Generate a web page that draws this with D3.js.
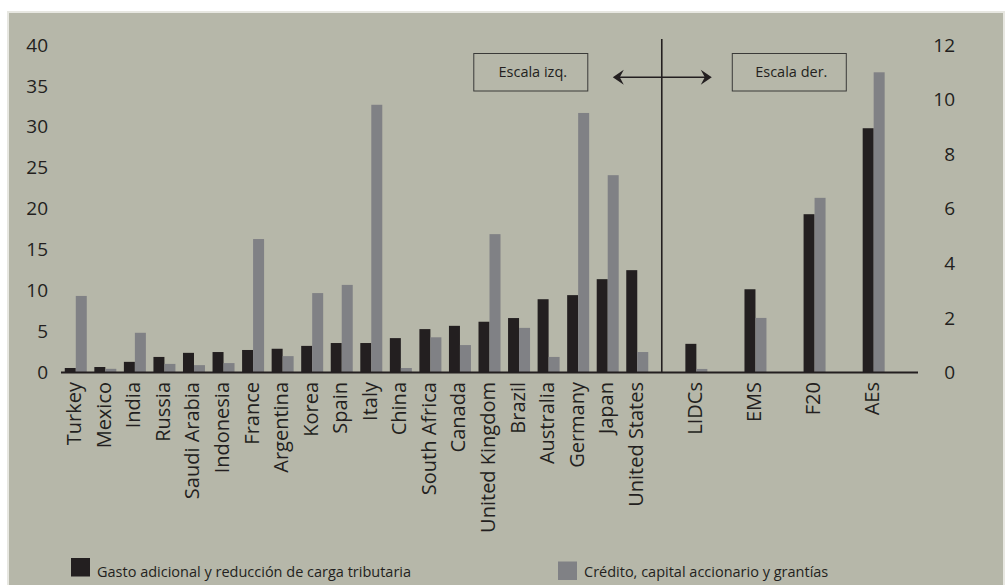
<!DOCTYPE html>
<html>
<head>
<meta charset="utf-8">
<script src="https://cdn.jsdelivr.net/npm/d3@7"></script>
<style>
  html, body { margin: 0; padding: 0; background: #ffffff; }
  svg { display: block; }
  text { font-family: "Open Sans", "Noto Sans", sans-serif; fill: #231f20; }
</style>
</head>
<body>
<svg id="chart" width="1005" height="585"></svg>
<script>
// ---- Data ----
const countries = ["Turkey","Mexico","India","Russia","Saudi Arabia","Indonesia","France","Argentina","Korea","Spain","Italy","China","South Africa","Canada","United Kingdom","Brazil","Australia","Germany","Japan","United States"];
const countryGasto   = [0.55,0.67,1.3,1.9,2.4,2.5,2.75,2.9,3.25,3.6,3.6,4.2,5.3,5.7,6.2,6.65,8.95,9.45,11.4,12.5];
const countryCredito = [9.35,0.45,4.85,1.05,0.9,1.15,16.3,2.0,9.7,10.7,32.7,0.55,4.3,3.35,16.9,5.45,1.9,31.7,24.1,2.5];

const groups = ["LIDCs","EMS","F20","AEs"];
const groupGasto   = [1.05,3.05,5.8,8.95];
const groupCredito = [0.13,2.0,6.4,11.0];

const leftTicks  = [0,5,10,15,20,25,30,35,40];
const rightTicks = [0,2,4,6,8,10,12];

const legendLabels = ["Gasto adicional y reducción de carga tributaria","Crédito, capital accionario y grantías"];
const scaleLabels  = ["Escala izq.","Escala der."];

const colGasto = "#231f20";
const colCredito = "#808185";

// ---- Build slots (countries, then groups separated by empty slots) ----
const slots = countries.slice();
groups.forEach((g, i) => { slots.push("_gap" + i); slots.push(g); });
slots.push("_gapEnd");

const rows = countries.map((c, i) => ({ key: c, gasto: countryGasto[i], credito: countryCredito[i], side: "L" }))
  .concat(groups.map((g, i) => ({ key: g, gasto: groupGasto[i], credito: groupCredito[i], side: "R" })));

const svg = d3.select("#chart");

// background panel
svg.append("rect").attr("x", 7).attr("y", 11).attr("width", 998).attr("height", 574).attr("fill", "#e7e7e1");
svg.append("rect").attr("x", 9).attr("y", 13).attr("width", 994).attr("height", 572).attr("fill", "#b6b7a9");

const x = d3.scaleBand().domain(slots).range([61, 918]).paddingInner(0).paddingOuter(0);
const yL = d3.scaleLinear().domain([0, 40]).range([372.5, 45]);
const yR = d3.scaleLinear().domain([0, 12]).range([372.5, 45]);
const barW = x.bandwidth() * 0.372;
const cx = k => x(k) + x.bandwidth() / 2;
const yFor = d => d.side === "L" ? yL : yR;

// Bars
const g = svg.append("g");
g.selectAll("rect.gasto").data(rows).join("rect")
  .attr("class", "gasto")
  .attr("x", d => cx(d.key) - barW)
  .attr("width", barW)
  .attr("y", d => yFor(d)(d.gasto))
  .attr("height", d => yFor(d)(0) - yFor(d)(d.gasto))
  .attr("fill", colGasto);
g.selectAll("rect.credito").data(rows).join("rect")
  .attr("class", "credito")
  .attr("x", d => cx(d.key))
  .attr("width", barW)
  .attr("y", d => yFor(d)(d.credito))
  .attr("height", d => yFor(d)(0) - yFor(d)(d.credito))
  .attr("fill", colCredito);

// Left axis
const axL = svg.append("g").attr("transform", "translate(61,0)")
  .call(d3.axisLeft(yL).tickValues(leftTicks).tickSize(0).tickPadding(13));
axL.select(".domain").remove();
axL.selectAll("text").style("font-size", "19px").attr("fill", "#231f20").style("font-family", '"Open Sans", sans-serif');

// Right axis
const axR = svg.append("g").attr("transform", "translate(918,0)")
  .call(d3.axisRight(yR).tickValues(rightTicks).tickSize(0));
axR.select(".domain").remove();
axR.selectAll("text").attr("x", 37).attr("text-anchor", "end").style("font-size", "19px").attr("fill", "#231f20").style("font-family", '"Open Sans", sans-serif');

// Baseline
svg.append("line").attr("x1", x.range()[0]).attr("x2", x.range()[1])
  .attr("y1", yL(0)).attr("y2", yL(0)).attr("stroke", "#231f20").attr("stroke-width", 2);

// X labels
svg.append("g").selectAll("text").data(rows).join("text")
  .attr("transform", d => `translate(${cx(d.key) + 5.5},${yL(0) + 9.5}) rotate(-90)`)
  .attr("text-anchor", "end")
  .style("font-size", "20px")
  .text(d => d.key);

// Divider line and arrow
const divX = x("_gap0") + x.bandwidth() * 0.33;
svg.append("line").attr("x1", divX).attr("x2", divX).attr("y1", 39).attr("y2", yL(0))
  .attr("stroke", "#231f20").attr("stroke-width", 1.6);

const arrowY = 77.3, aL = divX - 49, aR = divX + 50;
svg.append("line").attr("x1", aL + 4).attr("x2", aR - 4).attr("y1", arrowY).attr("y2", arrowY)
  .attr("stroke", "#231f20").attr("stroke-width", 1.6);
svg.append("path").attr("d", `M${aL},${arrowY} L${aL + 11},${arrowY - 7.5} L${aL + 7},${arrowY} L${aL + 11},${arrowY + 7.5} Z`).attr("fill", "#231f20");
svg.append("path").attr("d", `M${aR},${arrowY} L${aR - 11},${arrowY - 7.5} L${aR - 7},${arrowY} L${aR - 11},${arrowY + 7.5} Z`).attr("fill", "#231f20");

// Scale boxes
const boxes = [{ x0: divX - 188, label: scaleLabels[0] }, { x0: divX + 70.5, label: scaleLabels[1] }];
boxes.forEach(b => {
  svg.append("rect").attr("x", b.x0).attr("y", 53.5).attr("width", 114).attr("height", 37.5)
    .attr("fill", "none").attr("stroke", "#3a3a38").attr("stroke-width", 1);
  svg.append("text").attr("x", b.x0 + 59).attr("y", 77).attr("text-anchor", "middle")
    .style("font-size", "14.5px").text(b.label);
});

// Legend
const legend = [
  { x: 71, y: 558, color: colGasto, label: legendLabels[0] },
  { x: 558, y: 561.5, color: colCredito, label: legendLabels[1] }
];
legend.forEach(l => {
  svg.append("rect").attr("x", l.x).attr("y", l.y).attr("width", 19).attr("height", 18.5).attr("fill", l.color);
  svg.append("text").attr("x", l.x + 26).attr("y", 577).style("font-size", "14.5px").text(l.label);
});
</script>
</body>
</html>
